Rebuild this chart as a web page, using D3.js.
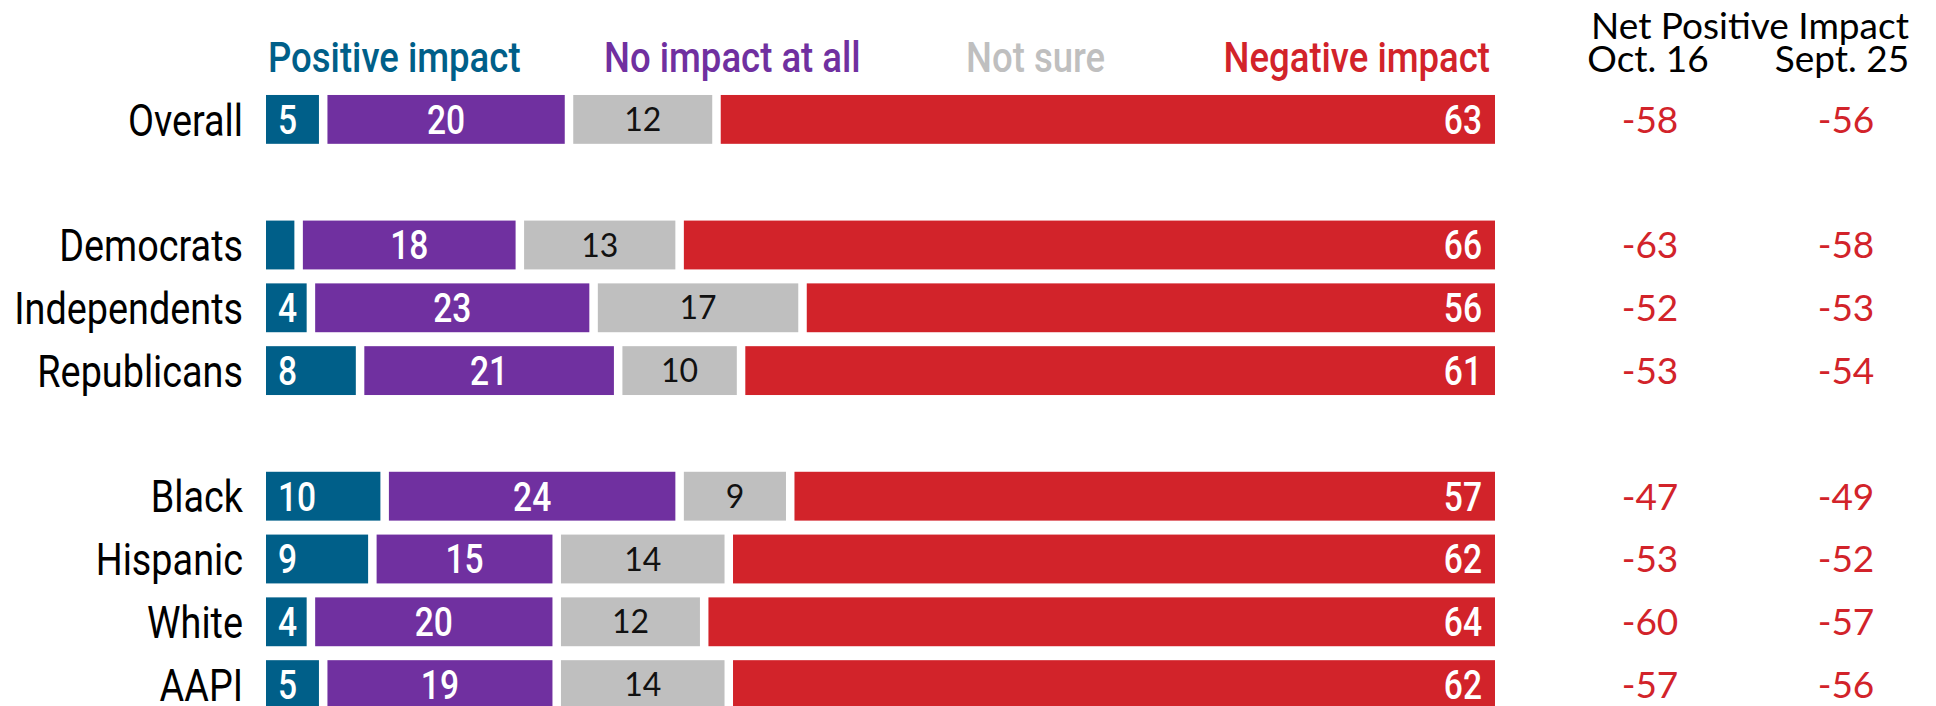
<!DOCTYPE html>
<html>
<head>
<meta charset="utf-8">
<script src="https://cdn.jsdelivr.net/npm/d3@7"></script>
<style>
  body { margin: 0; background: #fff; }
  .narrow { font-family: Roboto, "Noto Sans", sans-serif; }
  .plain { font-family: Lato, "Open Sans", sans-serif; }
</style>
</head>
<body>
<script>
var width = 1936;
var height = 706;

// rows (null = empty spacer row)
var groups = ["Overall", null, "Democrats", "Independents", "Republicans", null, "Black", "Hispanic", "White", "AAPI"];
var categories = ["Overall", "Democrats", "Independents", "Republicans", "Black", "Hispanic", "White", "AAPI"];

// percentages
var positive = [5, 3, 4, 8, 10, 9, 4, 5];
var noImpact = [20, 18, 23, 21, 24, 15, 20, 19];
var notSure = [12, 13, 17, 10, 9, 14, 12, 14];
var negative = [63, 66, 56, 61, 57, 62, 64, 62];

// net positive impact columns
var netOct = [-58, -63, -52, -53, -47, -53, -60, -57];
var netSept = [-56, -58, -53, -54, -49, -52, -57, -56];

var seriesNames = ["Positive impact", "No impact at all", "Not sure", "Negative impact"];
var seriesColors = ["#005f89", "#7030a0", "#bfbfbf", "#d2232a"];
var red = "#d2232a";

var svg = d3.select('body').append('svg').attr('width', width).attr('height', height)

// no condensed face installed, so squeeze Roboto horizontally
function place(px, py, s) { return "translate(" + px + "," + py + ") scale(" + (s || 0.84) + ",1)"; }

var slotKeys = groups.map(function (g, i) { return g ? g : "spacer" + i; });

var x = d3.scaleLinear().domain([0, 100]).range([266, 1495]);
var y = d3.scaleBand().domain(slotKeys).range([88, 716]).paddingInner(14 / 63).paddingOuter(7 / 63);
var gap = 8.5;

var rows = categories.map(function (c, i) {
  var vals = [positive[i], noImpact[i], notSure[i], negative[i]];
  var cum = 0;
  var segs = vals.map(function (v, k) {
    var s = { k: k, v: v, x0: x(cum), x1: k == 3 ? x(100) : x(cum + v) - gap };
    cum += v;
    return s;
  });
  return { name: c, segs: segs, oct: netOct[i], sept: netSept[i] };
});

// row labels
svg.append("g").selectAll("text")
  .data(rows).enter().append("text")
  .attr("class", "narrow")
  .attr("transform", function (d) { return place(243, y(d.name) + y.bandwidth() / 2); })
  .attr("dy", "0.36em")
  .attr("text-anchor", "end")
  .attr("font-size", 45)
  .attr("fill", "#000")
  .text(function (d) { return d.name; });

var rowG = svg.append("g").selectAll("g")
  .data(rows).enter().append("g")
  .attr("transform", function (d) { return "translate(0," + y(d.name) + ")"; });

rowG.selectAll("rect")
  .data(function (d) { return d.segs; }).enter().append("rect")
  .attr("x", function (d) { return d.x0; })
  .attr("y", 0)
  .attr("width", function (d) { return d.x1 - d.x0; })
  .attr("height", y.bandwidth())
  .attr("fill", function (d) { return seriesColors[d.k]; });

// value labels inside bars
function labelX(d) {
  if (d.k == 0) return d.x0 + 12;
  if (d.k == 3) return d.x1 - 13;
  return (d.x0 + d.x1) / 2;
}
rowG.selectAll("text.val")
  .data(function (d) { return d.segs.filter(function (s) { return s.v >= 4; }); }).enter().append("text")
  .attr("class", function (d) { return d.k == 2 ? "val plain" : "val narrow"; })
  .attr("transform", function (d) {
    return d.k == 2 ? "translate(" + labelX(d) + "," + y.bandwidth() / 2 + ")" : place(labelX(d), y.bandwidth() / 2);
  })
  .attr("dy", "0.36em")
  .attr("text-anchor", function (d) { return d.k == 0 ? "start" : d.k == 3 ? "end" : "middle"; })
  .attr("font-size", function (d) { return d.k == 2 ? 32 : 40; })
  .attr("font-weight", function (d) { return d.k == 2 ? 400 : 500; })
  .attr("fill", function (d) { return d.k == 2 ? "#111" : "#fff"; })
  .text(function (d) { return d.v; });

// legend
var legendX = [268, 604, 966, 1490];
svg.append("g").selectAll("text")
  .data(seriesNames).enter().append("text")
  .attr("class", "narrow")
  .attr("transform", function (d, i) { return place(legendX[i], 72, 0.87); })
  .attr("text-anchor", function (d, i) { return i == 3 ? "end" : "start"; })
  .attr("font-size", 42)
  .attr("font-weight", 500)
  .attr("fill", function (d, i) { return seriesColors[i]; })
  .text(function (d) { return d; });

// net positive columns
var colOct = 1650;
var colSept = 1846;

svg.append("text").attr("class", "plain")
  .attr("x", 1750).attr("y", 39)
  .attr("text-anchor", "middle").attr("font-size", 37)
  .text("Net Positive Impact");
svg.append("text").attr("class", "plain")
  .attr("x", 1648).attr("y", 72)
  .attr("text-anchor", "middle").attr("font-size", 37)
  .text("Oct. 16");
svg.append("text").attr("class", "plain")
  .attr("x", 1842).attr("y", 72)
  .attr("text-anchor", "middle").attr("font-size", 37)
  .text("Sept. 25");

var netG = svg.append("g").selectAll("g")
  .data(rows).enter().append("g")
  .attr("transform", function (d) { return "translate(0," + (y(d.name) + y.bandwidth() / 2) + ")"; });

netG.append("text").attr("class", "plain")
  .attr("x", colOct).attr("dy", "0.36em")
  .attr("text-anchor", "middle").attr("font-size", 37).attr("fill", red)
  .text(function (d) { return d.oct; });

netG.append("text").attr("class", "plain")
  .attr("x", colSept).attr("dy", "0.36em")
  .attr("text-anchor", "middle").attr("font-size", 37).attr("fill", red)
  .text(function (d) { return d.sept; });
</script>
</body>
</html>
